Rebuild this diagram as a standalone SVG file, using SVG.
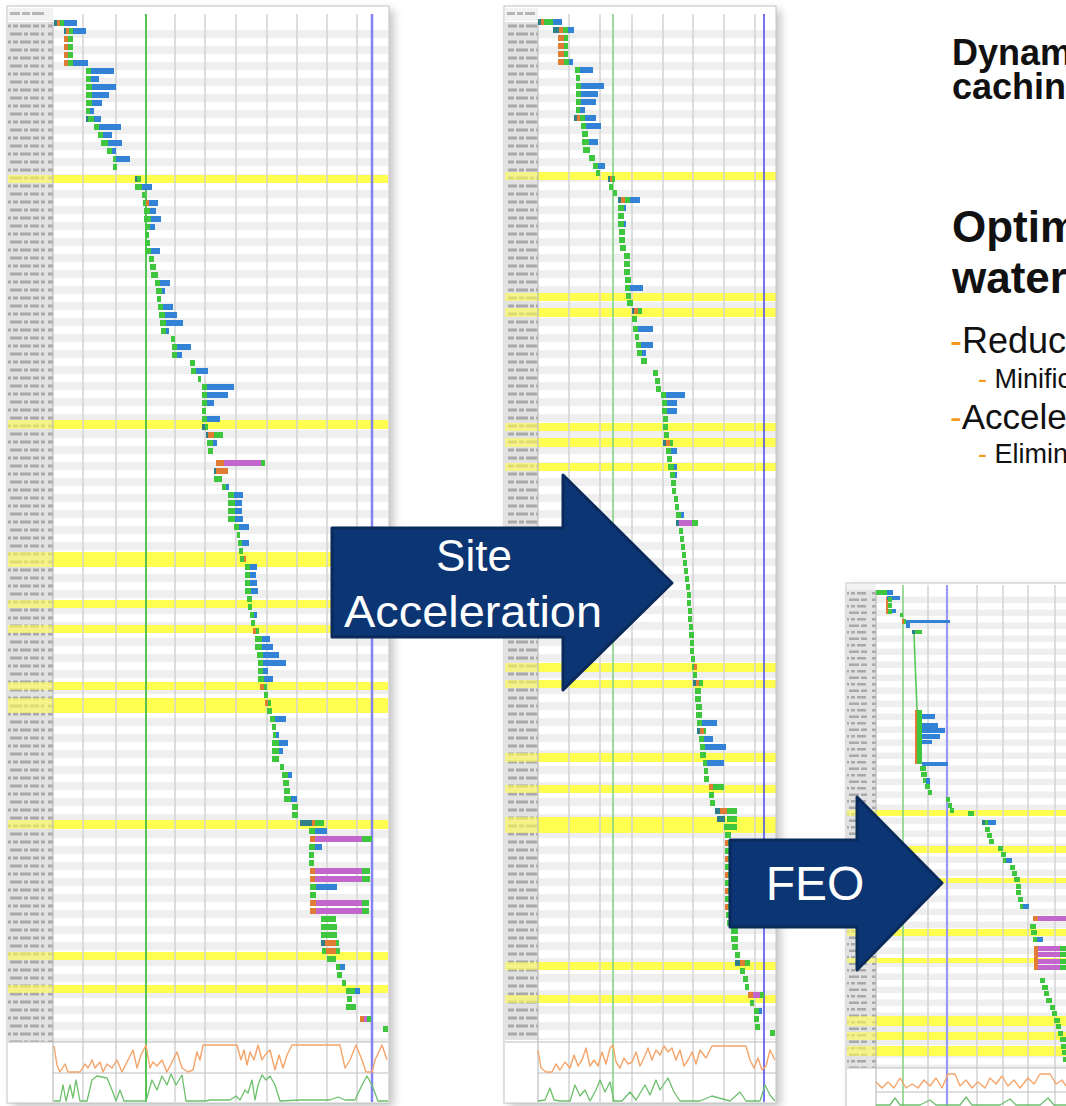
<svg xmlns="http://www.w3.org/2000/svg" width="1066" height="1106" viewBox="0 0 1066 1106">
<style>
.bg{fill:#ffffff}
.frame{fill:none;stroke:#c4c4c4;stroke-width:1}
.grid{stroke:#d3d3d3;stroke-width:1.5}
.g{fill:#3ec63e}
.b{fill:#3282d6}
.o{fill:#e07c34}
.p{fill:#c265cc}
.t{fill:#2e7f88}
.y{fill:#ffff4f}
.ylab{fill:#ffff4f;opacity:0.6}
.sep{stroke:#bdbdbd;stroke-width:1.2}
.orl{fill:none;stroke:#f5a46a;stroke-width:1.4;stroke-linejoin:round}
.grl{fill:none;stroke:#6cc06c;stroke-width:1.3;stroke-linejoin:round}
.arrow{fill:#0c3574;stroke:#0a2a5c;stroke-width:3;stroke-linejoin:round}
.atext{fill:#ffffff;font-family:"Liberation Sans",Arial,sans-serif;text-anchor:middle}
.note{font-family:"Liberation Sans",Arial,sans-serif;fill:#111111}
.dash{fill:#f39a1e}
</style>
<defs>
<filter id="blur" x="-20%" y="-5%" width="140%" height="110%"><feGaussianBlur stdDeviation="4"/></filter>
<filter id="soft"><feGaussianBlur stdDeviation="0.5"/></filter>
<pattern id="rows" x="0" y="22" width="10" height="16" patternUnits="userSpaceOnUse"><rect width="10" height="16" fill="#ffffff"/><rect y="8" width="10" height="8" fill="#efefef"/></pattern>
<pattern id="rows3" x="0" y="590" width="10" height="13" patternUnits="userSpaceOnUse"><rect width="10" height="13" fill="#ffffff"/><rect y="6.5" width="10" height="6.5" fill="#efefef"/></pattern>
<pattern id="lab" x="0" y="22" width="46" height="16" patternUnits="userSpaceOnUse"><rect width="46" height="16" fill="#e2e2e2"/><path d="M2 2.5h9v3h-9z M13 2.5h5v3h-5z M20 2.5h11v3h-11z M33 2.5h6v3h-6z M41 2.5h4v3h-4z M2 10.5h6v3h-6z M10 10.5h12v3h-12z M24 10.5h4v3h-4z M30 10.5h9v3h-9z M41 10.5h3v3h-3z" fill="#a9a9a9"/></pattern>
<pattern id="lab3" x="0" y="590" width="30" height="13" patternUnits="userSpaceOnUse"><rect width="30" height="13" fill="#e2e2e2"/><path d="M2 2h7v2.5h-7z M11 2h4v2.5h-4z M17 2h9v2.5h-9z M2 8.5h5v2.5h-5z M9 8.5h10v2.5h-10z M21 8.5h6v2.5h-6z" fill="#a9a9a9"/></pattern>
</defs>
<rect width="1066" height="1106" fill="#ffffff"/>

<g id="waterfall-before">
<rect x="12" y="10" width="382" height="1097" fill="#9a9a9a" opacity="0.55" filter="url(#blur)"/>
<rect class="bg" x="7" y="6" width="382" height="1097"/>
<rect x="53" y="22" width="335" height="1020" fill="url(#rows)"/>
<rect x="8" y="22" width="45" height="1020" fill="url(#lab)" filter="url(#soft)"/>
<rect x="8" y="8" width="45" height="13" fill="#f2f2f2"/>
<path d="M10 12h10v3h-10z M22 12h8v3h-8z M32 12h12v3h-12z" fill="#b5b5b5"/>
<g>
<rect class="y" x="53" y="175" width="335" height="8"/><rect class="ylab" x="8" y="175" width="45" height="8"/>
<rect class="y" x="53" y="420" width="335" height="9"/><rect class="ylab" x="8" y="420" width="45" height="9"/>
<rect class="y" x="53" y="552" width="335" height="15"/><rect class="ylab" x="8" y="552" width="45" height="15"/>
<rect class="y" x="53" y="600" width="335" height="8"/><rect class="ylab" x="8" y="600" width="45" height="8"/>
<rect class="y" x="53" y="625" width="335" height="8"/><rect class="ylab" x="8" y="625" width="45" height="8"/>
<rect class="y" x="53" y="682" width="335" height="8"/><rect class="ylab" x="8" y="682" width="45" height="8"/>
<rect class="y" x="53" y="698" width="335" height="15"/><rect class="ylab" x="8" y="698" width="45" height="15"/>
<rect class="y" x="53" y="820" width="335" height="9"/><rect class="ylab" x="8" y="820" width="45" height="9"/>
<rect class="y" x="53" y="952" width="335" height="8"/><rect class="ylab" x="8" y="952" width="45" height="8"/>
<rect class="y" x="53" y="985" width="335" height="8"/><rect class="ylab" x="8" y="985" width="45" height="8"/>
</g>
<rect class="bg" x="8" y="1042" width="380" height="60"/>
<path class="grid" d="M83 14V1102 M116 14V1102 M175 14V1102 M205 14V1102 M236 14V1102 M267 14V1102 M297 14V1102 M327 14V1102 M357 14V1102"/>
<line class="sep" x1="8" y1="1042" x2="388" y2="1042"/>
<line class="sep" x1="53" y1="1073" x2="388" y2="1073"/>
<line class="sep" x1="53" y1="22" x2="53" y2="1102"/>
<line x1="146" y1="14" x2="146" y2="1102" stroke="#55c455" stroke-width="2"/>
<line x1="372" y1="14" x2="372" y2="1102" stroke="#8383f2" stroke-width="2.5"/>
<path class="t" d="M54 20h3v6h-3z M64 28h2v6h-2z M86 116h2v6h-2z M135 176h2v6h-2z M202 424h3v6h-3z M206 432h2v6h-2z M214 468h2v6h-2z M300 820h12v6h-12z M321 940h4v6h-4z"/>
<path class="o" d="M57 20h3v6h-3z M66 28h3v6h-3z M64 36h4v6h-4z M64 44h4v6h-4z M64 52h4v6h-4z M64 60h4v6h-4z M146 200h3v6h-3z M208 432h6v6h-6z M216 460h8v6h-8z M216 468h12v6h-12z M244 556h2v6h-2z M253 628h3v6h-3z M260 684h4v6h-4z M265 700h3v6h-3z M312 820h3v6h-3z M310 836h5v6h-5z M310 868h5v6h-5z M310 876h5v6h-5z M310 900h6v6h-6z M310 908h6v6h-6z M325 940h11v6h-11z M326 948h10v6h-10z M360 1016h4v6h-4z"/>
<path class="p" d="M224 460h37v6h-37z M315 836h47v6h-47z M315 868h47v6h-47z M315 876h47v6h-47z M316 900h46v6h-46z M316 908h46v6h-46z M364 1016h3v6h-3z"/>
<path class="b" d="M64 20h13v6h-13z M73 28h13v6h-13z M73 60h15v6h-15z M91 68h23v6h-23z M91 76h8v6h-8z M92 84h24v6h-24z M92 92h17v6h-17z M92 100h10v6h-10z M90 108h4v6h-4z M94 116h7v6h-7z M99 124h22v6h-22z M103 132h9v6h-9z M108 140h14v6h-14z M112 148h4v6h-4z M116 156h14v6h-14z M142 184h10v6h-10z M149 200h9v6h-9z M150 208h6v6h-6z M151 216h10v6h-10z M150 224h5v6h-5z M151 248h9v6h-9z M160 280h10v6h-10z M162 288h3v6h-3z M163 304h10v6h-10z M165 312h12v6h-12z M166 320h17v6h-17z M166 328h3v6h-3z M177 344h14v6h-14z M177 352h5v6h-5z M196 368h12v6h-12z M207 384h27v6h-27z M207 392h21v6h-21z M207 400h7v6h-7z M207 416h13v6h-13z M213 440h4v6h-4z M226 484h3v6h-3z M234 492h9v6h-9z M235 500h7v6h-7z M235 508h7v6h-7z M235 516h8v6h-8z M239 524h10v6h-10z M242 540h7v6h-7z M250 564h7v6h-7z M250 572h6v6h-6z M250 580h7v6h-7z M251 588h7v6h-7z M254 612h3v6h-3z M262 636h8v6h-8z M262 644h11v6h-11z M263 652h16v6h-16z M263 660h23v6h-23z M263 668h5v6h-5z M264 676h9v6h-9z M275 716h11v6h-11z M276 732h3v6h-3z M279 740h9v6h-9z M279 748h4v6h-4z M288 772h4v6h-4z M291 796h6v6h-6z M315 828h12v6h-12z M315 844h7v6h-7z M316 884h21v6h-21z M340 964h5v6h-5z M355 988h5v6h-5z"/>
<path class="g" d="M60 20h4v6h-4z M69 28h4v6h-4z M68 36h5v6h-5z M68 44h5v6h-5z M68 52h5v6h-5z M68 60h5v6h-5z M86 68h5v6h-5z M86 76h5v6h-5z M86 84h6v6h-6z M86 92h6v6h-6z M86 100h6v6h-6z M86 108h4v6h-4z M88 116h6v6h-6z M94 124h5v6h-5z M98 132h5v6h-5z M101 140h7v6h-7z M107 148h5v6h-5z M113 156h3v6h-3z M113 164h4v6h-4z M137 176h4v6h-4z M135 184h7v6h-7z M142 192h3v6h-3z M143 200h3v6h-3z M144 208h6v6h-6z M144 216h7v6h-7z M145 224h5v6h-5z M145 232h4v6h-4z M145 240h5v6h-5z M145 248h6v6h-6z M149 256h5v6h-5z M150 264h6v6h-6z M151 272h7v6h-7z M155 280h5v6h-5z M156 288h6v6h-6z M157 296h4v6h-4z M158 304h5v6h-5z M159 312h6v6h-6z M160 320h6v6h-6z M161 328h5v6h-5z M171 336h4v6h-4z M172 344h5v6h-5z M172 352h5v6h-5z M190 360h5v6h-5z M191 368h5v6h-5z M198 376h3v6h-3z M202 384h5v6h-5z M202 392h5v6h-5z M202 400h5v6h-5z M202 408h4v6h-4z M202 416h5v6h-5z M205 424h3v6h-3z M214 432h9v6h-9z M207 440h6v6h-6z M208 448h5v6h-5z M261 460h4v6h-4z M214 476h8v6h-8z M222 484h4v6h-4z M228 492h6v6h-6z M228 500h7v6h-7z M228 508h7v6h-7z M228 516h7v6h-7z M234 524h5v6h-5z M237 532h3v6h-3z M238 540h4v6h-4z M239 548h4v6h-4z M240 556h4v6h-4z M245 564h5v6h-5z M245 572h5v6h-5z M245 580h5v6h-5z M245 588h6v6h-6z M247 596h5v6h-5z M248 604h4v6h-4z M250 612h4v6h-4z M251 620h4v6h-4z M256 628h3v6h-3z M255 636h7v6h-7z M255 644h7v6h-7z M257 652h6v6h-6z M258 660h5v6h-5z M258 668h5v6h-5z M258 676h6v6h-6z M264 684h3v6h-3z M264 692h4v6h-4z M268 700h3v6h-3z M267 708h5v6h-5z M270 716h5v6h-5z M272 724h4v6h-4z M273 732h3v6h-3z M272 740h7v6h-7z M272 748h7v6h-7z M272 756h7v6h-7z M280 764h4v6h-4z M282 772h6v6h-6z M283 780h6v6h-6z M284 788h6v6h-6z M284 796h7v6h-7z M292 804h6v6h-6z M292 812h6v6h-6z M315 820h9v6h-9z M309 828h6v6h-6z M362 836h10v6h-10z M309 844h6v6h-6z M309 852h5v6h-5z M309 860h5v6h-5z M362 868h8v6h-8z M362 876h8v6h-8z M310 884h6v6h-6z M310 892h6v6h-6z M362 900h7v6h-7z M362 908h7v6h-7z M321 916h15v6h-15z M321 924h16v6h-16z M321 932h16v6h-16z M336 940h3v6h-3z M322 948h4v6h-4z M336 948h4v6h-4z M327 956h9v6h-9z M336 964h4v6h-4z M337 972h5v6h-5z M342 980h4v6h-4z M346 988h9v6h-9z M347 996h5v6h-5z M346 1004h10v6h-10z M367 1016h4v6h-4z M383 1026h5v6h-5z"/>
<polyline class="orl" points="54,1046 57,1065 60,1072 65,1064 68,1072 80,1072 85,1064 88,1068 92,1060 95,1068 100,1062 103,1072 107,1064 112,1068 117,1060 122,1072 128,1060 133,1050 137,1068 141,1055 146,1045 150,1068 153,1062 157,1066 162,1060 167,1072 172,1062 177,1052 182,1068 188,1072 193,1070 197,1052 200,1060 203,1045 237,1045 241,1060 244,1050 247,1065 250,1052 254,1060 258,1045 262,1060 265,1055 270,1050 275,1070 279,1055 283,1068 287,1055 292,1045 340,1045 345,1068 350,1060 356,1045 362,1060 366,1072 372,1072 375,1060 382,1045 387,1060"/>
<polyline class="grl" points="54,1101 60,1101 63,1085 66,1101 70,1085 73,1098 76,1080 80,1101 87,1101 92,1080 97,1076 107,1078 112,1090 116,1101 120,1090 124,1101 146,1101 152,1080 157,1090 162,1076 167,1085 171,1074 176,1085 182,1075 186,1101 205,1101 210,1100 230,1100 236,1096 240,1100 245,1090 248,1093 252,1080 255,1100 258,1085 262,1075 266,1080 270,1076 275,1085 280,1101 300,1100 330,1100 338,1097 345,1100 355,1100 362,1085 367,1076 372,1085 378,1101 388,1101"/>
<rect class="frame" x="7" y="6" width="382" height="1097"/>
</g>

<g id="waterfall-site-accel">
<rect x="509" y="10" width="272" height="1097" fill="#9a9a9a" opacity="0.55" filter="url(#blur)"/>
<rect class="bg" x="504" y="6" width="272" height="1097"/>
<rect x="538" y="22" width="238" height="1018" fill="url(#rows)"/>
<rect x="505" y="22" width="33" height="1018" fill="url(#lab)" filter="url(#soft)"/>
<rect x="505" y="8" width="33" height="13" fill="#f2f2f2"/>
<path d="M507 12h8v3h-8z M517 12h6v3h-6z M525 12h10v3h-10z" fill="#b5b5b5"/>
<g>
<rect class="y" x="538" y="172" width="238" height="8"/><rect class="ylab" x="505" y="172" width="33" height="8"/>
<rect class="y" x="538" y="293" width="238" height="8"/><rect class="ylab" x="505" y="293" width="33" height="8"/>
<rect class="y" x="538" y="308" width="238" height="9"/><rect class="ylab" x="505" y="308" width="33" height="9"/>
<rect class="y" x="538" y="423" width="238" height="8"/><rect class="ylab" x="505" y="423" width="33" height="8"/>
<rect class="y" x="538" y="438" width="238" height="9"/><rect class="ylab" x="505" y="438" width="33" height="9"/>
<rect class="y" x="538" y="463" width="238" height="8"/><rect class="ylab" x="505" y="463" width="33" height="8"/>
<rect class="y" x="538" y="663" width="238" height="9"/><rect class="ylab" x="505" y="663" width="33" height="9"/>
<rect class="y" x="538" y="680" width="238" height="8"/><rect class="ylab" x="505" y="680" width="33" height="8"/>
<rect class="y" x="538" y="753" width="238" height="9"/><rect class="ylab" x="505" y="753" width="33" height="9"/>
<rect class="y" x="538" y="785" width="238" height="8"/><rect class="ylab" x="505" y="785" width="33" height="8"/>
<rect class="y" x="538" y="817" width="238" height="16"/><rect class="ylab" x="505" y="817" width="33" height="16"/>
<rect class="y" x="538" y="962" width="238" height="8"/><rect class="ylab" x="505" y="962" width="33" height="8"/>
<rect class="y" x="538" y="995" width="238" height="8"/><rect class="ylab" x="505" y="995" width="33" height="8"/>
</g>
<rect class="bg" x="505" y="1042" width="271" height="60"/>
<path class="grid" d="M569 14V1102 M600 14V1102 M632 14V1102 M663 14V1102 M693 14V1102 M724 14V1102 M755 14V1102"/>
<line class="sep" x1="505" y1="1042" x2="776" y2="1042"/>
<line class="sep" x1="538" y1="1073" x2="776" y2="1073"/>
<line class="sep" x1="538" y1="22" x2="538" y2="1102"/>
<line x1="613" y1="14" x2="613" y2="1102" stroke="#86d486" stroke-width="1.6"/>
<line x1="764" y1="14" x2="764" y2="1102" stroke="#5252ee" stroke-width="1.6"/>
<path class="t" d="M538 19h3v6h-3z M553 27h6v6h-6z M574 115h3v6h-3z M608 176h2v6h-2z M618 197h3v6h-3z M632 308h2v6h-2z M663 440h3v6h-3z M676 520h3v6h-3z M693 680h3v6h-3z M697 728h3v6h-3z M715 808h5v6h-5z M717 816h8v6h-8z M735 960h5v6h-5z"/>
<path class="o" d="M541 19h3v6h-3z M559 27h4v6h-4z M558 35h6v6h-6z M558 43h6v6h-6z M558 51h6v6h-6z M558 59h6v6h-6z M577 115h3v6h-3z M610 176h2v6h-2z M621 197h4v6h-4z M634 308h4v6h-4z M666 440h4v6h-4z M694 664h3v6h-3z M696 680h3v6h-3z M700 728h4v6h-4z M709 784h4v6h-4z M720 808h7v6h-7z M725 840h3v6h-3z M725 856h3v6h-3z M725 872h3v6h-3z M725 888h3v6h-3z M725 904h3v6h-3z M740 960h5v6h-5z M748 992h5v6h-5z"/>
<path class="p" d="M679 520h13v6h-13z M753 992h7v6h-7z"/>
<path class="b" d="M553 19h9v6h-9z M568 27h6v6h-6z M569 59h4v6h-4z M580 67h13v6h-13z M581 83h23v6h-23z M581 91h17v6h-17z M581 99h15v6h-15z M580 107h5v6h-5z M585 115h11v6h-11z M586 123h15v6h-15z M589 139h9v6h-9z M598 163h7v6h-7z M630 197h10v6h-10z M624 205h2v6h-2z M624 221h2v6h-2z M630 285h13v6h-13z M638 326h15v6h-15z M641 342h12v6h-12z M642 350h4v6h-4z M666 392h19v6h-19z M667 400h10v6h-10z M667 408h10v6h-10z M671 448h6v6h-6z M674 464h3v6h-3z M675 472h2v6h-2z M681 512h3v6h-3z M702 720h15v6h-15z M704 736h9v6h-9z M705 744h21v6h-21z M707 760h17v6h-17z M759 1008h3v6h-3z"/>
<path class="g" d="M544 19h9v6h-9z M563 27h5v6h-5z M564 35h4v6h-4z M564 43h4v6h-4z M564 51h4v6h-4z M564 59h5v6h-5z M575 67h5v6h-5z M576 75h4v6h-4z M576 83h5v6h-5z M576 91h5v6h-5z M576 99h5v6h-5z M576 107h4v6h-4z M580 115h5v6h-5z M581 123h5v6h-5z M582 131h6v6h-6z M582 139h7v6h-7z M583 147h7v6h-7z M589 155h6v6h-6z M593 163h5v6h-5z M596 170h4v6h-4z M612 176h3v6h-3z M609 184h4v6h-4z M613 190h4v6h-4z M625 197h5v6h-5z M618 205h6v6h-6z M618 213h6v6h-6z M618 221h6v6h-6z M619 229h6v6h-6z M619 237h6v6h-6z M620 245h6v6h-6z M624 253h6v6h-6z M624 261h6v6h-6z M624 269h6v6h-6z M625 277h6v6h-6z M625 285h5v6h-5z M626 293h5v6h-5z M627 300h6v6h-6z M638 308h4v6h-4z M632 316h5v6h-5z M633 326h5v6h-5z M635 334h4v6h-4z M636 342h5v6h-5z M637 350h5v6h-5z M641 358h6v6h-6z M653 370h5v6h-5z M655 378h5v6h-5z M656 386h5v6h-5z M661 392h5v6h-5z M662 400h5v6h-5z M662 408h5v6h-5z M663 416h5v6h-5z M663 424h5v6h-5z M664 432h5v6h-5z M670 440h3v6h-3z M666 448h5v6h-5z M667 456h5v6h-5z M668 464h6v6h-6z M670 472h5v6h-5z M671 480h5v6h-5z M672 488h4v6h-4z M674 496h4v6h-4z M675 504h4v6h-4z M676 512h5v6h-5z M692 520h6v6h-6z M679 528h4v6h-4z M680 536h4v6h-4z M681 544h4v6h-4z M682 552h4v6h-4z M683 560h4v6h-4z M684 568h4v6h-4z M685 576h4v6h-4z M686 584h4v6h-4z M687 592h4v6h-4z M687 600h4v6h-4z M688 608h4v6h-4z M688 616h4v6h-4z M689 624h4v6h-4z M689 632h5v6h-5z M690 640h4v6h-4z M690 648h4v6h-4z M691 656h4v6h-4z M692 664h2v6h-2z M693 672h4v6h-4z M699 680h4v6h-4z M695 688h6v6h-6z M695 696h6v6h-6z M696 704h6v6h-6z M696 712h6v6h-6z M697 720h5v6h-5z M704 728h2v6h-2z M699 736h5v6h-5z M700 744h5v6h-5z M700 752h6v6h-6z M703 760h4v6h-4z M704 768h4v6h-4z M704 776h5v6h-5z M713 784h11v6h-11z M709 792h5v6h-5z M710 800h5v6h-5z M727 808h10v6h-10z M727 816h10v6h-10z M724 824h13v6h-13z M725 832h6v6h-6z M728 840h3v6h-3z M725 848h6v6h-6z M728 856h3v6h-3z M725 864h6v6h-6z M728 872h3v6h-3z M725 880h6v6h-6z M728 888h3v6h-3z M725 896h6v6h-6z M728 904h3v6h-3z M726 912h6v6h-6z M727 920h6v6h-6z M731 928h7v6h-7z M731 936h7v6h-7z M732 944h6v6h-6z M735 952h5v6h-5z M745 960h5v6h-5z M740 968h5v6h-5z M743 976h5v6h-5z M745 984h4v6h-4z M760 992h4v6h-4z M750 1000h4v6h-4z M754 1008h5v6h-5z M754 1016h5v6h-5z M755 1024h5v6h-5z M770 1030h5v6h-5z"/>
<polyline class="orl" points="538,1050 541,1068 546,1072 552,1072 556,1064 560,1070 565,1062 570,1068 574,1055 578,1066 582,1060 586,1048 590,1066 594,1060 598,1066 602,1052 606,1064 610,1048 613,1045 616,1062 620,1068 624,1058 628,1064 632,1062 636,1052 640,1066 644,1058 648,1048 652,1060 656,1050 660,1055 664,1046 668,1052 672,1048 676,1060 680,1050 684,1066 688,1060 692,1052 696,1064 700,1050 706,1058 712,1046 746,1046 750,1060 754,1068 758,1058 762,1070 766,1066 770,1050 775,1060"/>
<polyline class="grl" points="538,1101 545,1100 550,1088 554,1100 560,1101 570,1101 575,1085 580,1096 585,1090 590,1101 596,1090 600,1080 605,1092 610,1082 614,1101 622,1101 630,1092 636,1100 645,1085 650,1095 656,1080 660,1090 668,1078 674,1092 680,1101 700,1101 712,1096 730,1101 740,1092 746,1101 760,1101 765,1085 770,1095 775,1101"/>
<rect class="frame" x="504" y="6" width="272" height="1097"/>
</g>

<g id="waterfall-feo">
<rect x="850" y="586" width="230" height="530" fill="#9a9a9a" opacity="0.5" filter="url(#blur)"/>
<rect class="bg" x="846" y="583" width="230" height="530"/>
<rect x="876" y="590" width="200" height="478" fill="url(#rows3)"/>
<rect x="847" y="590" width="29" height="478" fill="url(#lab3)" filter="url(#soft)"/>
<rect x="847" y="584" width="29" height="6" fill="#f2f2f2"/>
<g>
<rect class="y" x="876" y="810" width="200" height="6"/><rect class="ylab" x="847" y="810" width="29" height="6"/>
<rect class="y" x="876" y="846" width="200" height="7"/><rect class="ylab" x="847" y="846" width="29" height="7"/>
<rect class="y" x="876" y="878" width="200" height="5"/><rect class="ylab" x="847" y="878" width="29" height="5"/>
<rect class="y" x="876" y="929" width="200" height="7"/><rect class="ylab" x="847" y="929" width="29" height="7"/>
<rect class="y" x="876" y="958" width="200" height="5"/><rect class="ylab" x="847" y="958" width="29" height="5"/>
<rect class="y" x="876" y="1016" width="200" height="10"/><rect class="ylab" x="847" y="1016" width="29" height="10"/>
<rect class="y" x="876" y="1032" width="200" height="8"/><rect class="ylab" x="847" y="1032" width="29" height="8"/>
<rect class="y" x="876" y="1046" width="200" height="10"/><rect class="ylab" x="847" y="1046" width="29" height="10"/>
</g>
<rect class="bg" x="847" y="1068" width="229" height="40"/>
<path class="grid" d="M928 585V1108 M977 585V1108 M1003 585V1108 M1028 585V1108 M1055 585V1108"/>
<line class="sep" x1="847" y1="1068" x2="1066" y2="1068"/>
<line class="sep" x1="876" y1="1092" x2="1066" y2="1092"/>
<line class="sep" x1="876" y1="590" x2="876" y2="1108"/>
<line x1="903" y1="585" x2="903" y2="1108" stroke="#86d486" stroke-width="1.6"/>
<line x1="947" y1="585" x2="947" y2="1108" stroke="#9a9af6" stroke-width="2.2"/>
<line x1="914" y1="634" x2="917" y2="710" stroke="#55c855" stroke-width="1.6"/>
<path class="t" d="M912 630h3v4h-3z M982 820h3v5h-3z"/>
<path class="o" d="M886 597h2v17h-2z M902 619h2v5h-2z M915 710h2v54h-2z M1033 916h5v5h-5z M1034 946h4v24h-4z"/>
<path class="p" d="M1038 916h28v5h-28z M1038 946h22v5h-22z M1038 952h22v5h-22z M1038 959h22v5h-22z M1038 965h22v5h-22z"/>
<path class="b" d="M887 590h6v5h-6z M887 596h13v4h-13z M892 609h4v4h-4z M906 620h44v3h-44z M906 623h4v5h-4z M922 714h13v5h-13z M922 723h16v5h-16z M922 728h23v5h-23z M922 734h18v5h-18z M922 740h10v4h-10z M922 762h26v4h-26z M926 778h4v8h-4z M988 820h8v5h-8z M1006 858h6v5h-6z M1023 904h6v5h-6z M1037 937h6v5h-6z"/>
<path class="g" d="M876 590h11v5h-11z M888 597h4v5h-4z M888 603h4v5h-4z M888 609h4v5h-4z M900 613h3v4h-3z M904 619h2v5h-2z M915 630h7v4h-7z M917 710h5v54h-5z M920 766h6v5h-6z M921 772h6v5h-6z M923 778h3v5h-3z M925 784h5v5h-5z M928 790h4v5h-4z M946 797h4v5h-4z M948 803h4v5h-4z M950 808h4v5h-4z M968 811h6v5h-6z M985 820h3v5h-3z M985 827h5v5h-5z M987 833h5v5h-5z M989 839h5v5h-5z M998 846h5v5h-5z M1001 852h5v5h-5z M1003 858h3v5h-3z M1010 865h5v5h-5z M1012 871h5v5h-5z M1014 877h6v5h-6z M1016 884h5v5h-5z M1016 890h5v5h-5z M1018 897h5v5h-5z M1020 904h3v5h-3z M1030 924h6v5h-6z M1031 930h6v5h-6z M1033 937h4v5h-4z M1060 946h6v5h-6z M1060 952h6v5h-6z M1060 959h6v5h-6z M1060 965h6v5h-6z M1040 978h5v5h-5z M1042 985h6v5h-6z M1044 991h5v5h-5z M1046 998h6v5h-6z M1050 1005h5v5h-5z M1052 1011h5v5h-5z M1054 1018h6v5h-6z M1056 1024h5v5h-5z M1058 1031h5v5h-5z M1060 1037h6v5h-6z M1061 1044h5v5h-5z M1062 1050h4v5h-4z M1063 1057h3v5h-3z"/>
<polyline class="orl" points="876,1082 882,1088 888,1082 894,1088 900,1078 906,1088 912,1084 918,1088 924,1080 930,1086 936,1078 942,1088 948,1074 955,1074 960,1086 966,1080 972,1088 978,1082 985,1088 990,1078 996,1084 1002,1076 1008,1086 1014,1080 1020,1088 1028,1078 1034,1084 1040,1074 1050,1074 1056,1084 1062,1080 1066,1086"/>
<polyline class="grl" points="876,1105 890,1105 895,1098 900,1105 920,1105 930,1100 936,1105 960,1105 966,1097 972,1105 1000,1105 1010,1099 1016,1105 1040,1105 1048,1098 1054,1105 1066,1105"/>
<rect class="frame" x="846" y="583" width="230" height="530"/>
</g>

<g id="connectors">
<g id="arrow-site-acceleration">
<path class="arrow" d="M332 528H563V475L672 583L563 690V637H332Z"/>
<text class="atext" x="474" y="571" font-size="44">Site</text>
<text class="atext" x="473" y="627" font-size="44" textLength="258" lengthAdjust="spacingAndGlyphs">Acceleration</text>
</g>
<g id="arrow-feo">
<path class="arrow" d="M730 840H857V797L942 883L857 970V927H730Z"/>
<text class="atext" x="815" y="900" font-size="48">FEO</text>
</g>
</g>

<g id="text-notes">
<text class="note" x="952" y="65" font-size="36" font-weight="bold">Dynamic</text>
<text class="note" x="952" y="99" font-size="36" font-weight="bold">caching</text>
<text class="note" x="952" y="242" font-size="44" font-weight="bold">Optimize</text>
<text class="note" x="952" y="293" font-size="44" font-weight="bold">waterfall</text>
<text class="note" x="950" y="353" font-size="36"><tspan class="dash">-</tspan>Reduce</text>
<text class="note" x="978" y="388" font-size="27"><tspan class="dash">-</tspan> Minification</text>
<text class="note" x="950" y="429" font-size="35"><tspan class="dash">-</tspan>Accelerate</text>
<text class="note" x="978" y="463" font-size="27"><tspan class="dash">-</tspan> Elimination</text>
</g>
</svg>
